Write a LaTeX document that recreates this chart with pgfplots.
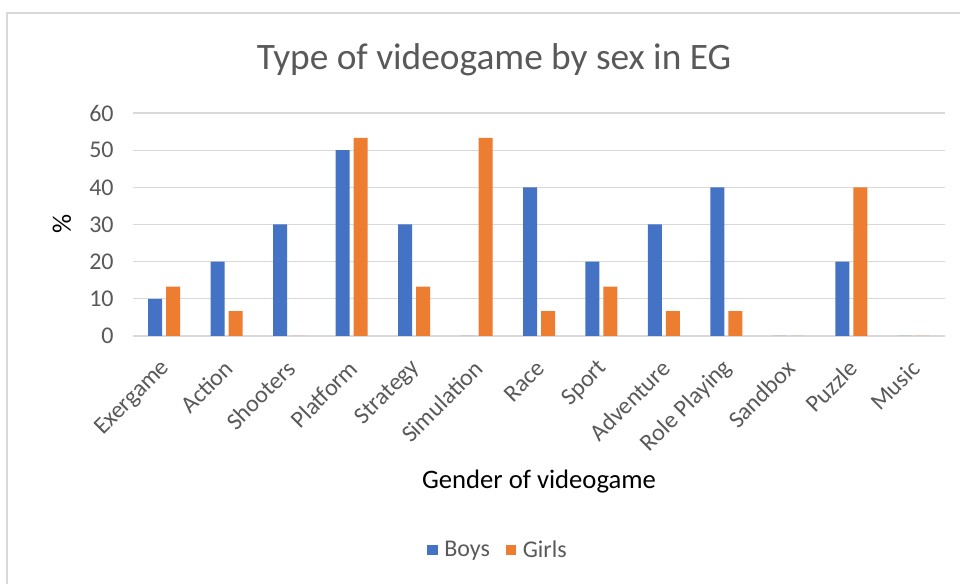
\documentclass[border=0pt]{standalone}
\usepackage{pgfplots}
\pgfplotsset{compat=1.18}
\usepackage{fontspec}
\setmainfont{Carlito}
\definecolor{boys}{HTML}{4472C4}
\definecolor{girls}{HTML}{ED7D31}
\definecolor{txtgray}{HTML}{595959}
\definecolor{gridgray}{HTML}{D9D9D9}
\begin{document}
\begin{tikzpicture}[x=0.75pt,y=0.75pt]
% canvas 960 x 584 px, 1px = 0.75pt
\path[use as bounding box, fill=white] (0,0) rectangle (960,584);
\draw[gridgray, line width=1.2pt] (7,-5) -- (7,571) -- (965,571);
\node[txtgray, font=\fontsize{28}{32}\selectfont] at (494,524) {Type of videogame by sex in EG};
\begin{axis}[
    at={(99.75pt,186pt)}, anchor=south west,
    scale only axis,
    width=609pt, height=167.25pt,
    ybar=3pt, bar width=10.5pt,
    ymin=0, ymax=60, ytick={0,10,...,60},
    xmin=-0.5, xmax=12.5,
    xtick=data,
    xticklabels={Exergame,Action,Shooters,Platform,Strategy,Simulation,Race,Sport,Adventure,Role Playing,Sandbox,Puzzle,Music},
    x tick label style={yshift=-19pt, xshift=4pt, rotate=45, anchor=east, font=\fontsize{18}{21}\selectfont, text=txtgray},
    y tick label style={xshift=-11pt, font=\fontsize{18}{21}\selectfont, text=txtgray},
    /pgf/number format/assume math mode=true,
    axis line style={draw=none},
    major tick length=0pt,
    ymajorgrids, grid style={gridgray, line width=0.9pt},
    legend style={at={(0.45,-0.96)}, anchor=center, draw=none, legend columns=2,
        font=\fontsize{18}{21}\selectfont, text=txtgray,
        /tikz/every odd column/.append style={column sep=3pt},
        /tikz/every even column/.append style={column sep=10pt}},
    legend image code/.code={\fill[#1] (0cm,-0.13cm) rectangle (0.27cm,0.14cm);},
]
\addplot[fill=boys, draw=none] coordinates {
(0,10) (1,20) (2,30) (3,50) (4,30) (5,0) (6,40) (7,20) (8,30) (9,40) (10,0) (11,20) (12,0)};
\addplot[fill=girls, draw=none] coordinates {
(0,13.3) (1,6.7) (2,0) (3,53.3) (4,13.3) (5,53.3) (6,6.7) (7,13.3) (8,6.7) (9,6.7) (10,0) (11,40) (12,0)};
\legend{Boys,Girls}
\end{axis}
\node[font=\fontsize{20}{24}\selectfont] at (539,102) {Gender of videogame};
\node[rotate=90, font=\fontsize{20}{24}\selectfont] at (62,360) {\%};
\end{tikzpicture}
\end{document}
